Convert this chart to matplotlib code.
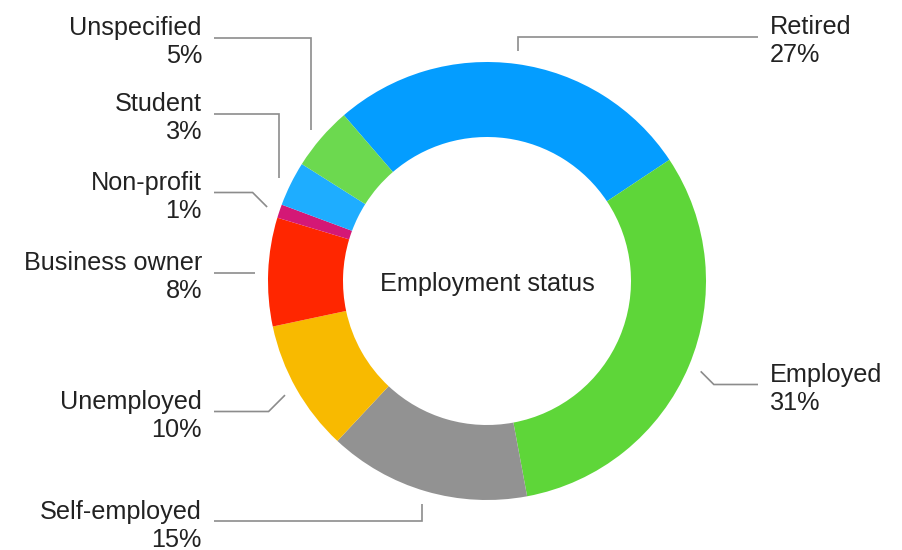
import numpy as np
import matplotlib
matplotlib.use('Agg')
import matplotlib.pyplot as plt

# data (share of respondents, %)
categories = ['Retired', 'Employed', 'Self-employed', 'Unemployed',
              'Business owner', 'Non-profit', 'Student', 'Unspecified']
shares = [27.0, 31.4, 14.9, 9.7, 8.0, 1.0, 3.3, 4.7]
colors = ['#049DFF', '#5ED639', '#929292', '#F8BA00',
          '#FF2600', '#D41876', '#1EADFF', '#6CD94F']
center_title = 'Employment status'

# label layout: side, first-line baseline (px from top), leader style
label_side = ['right', 'right', 'left', 'left', 'left', 'left', 'left', 'left']
label_base = [32, 380, 517, 407, 268, 188, 109, 33]
leader_kind = ['v', 'd', 'v', 'd', 'h', 'd', 'v', 'v']

W, H = 903, 550
plt.rcParams['font.family'] = ['Liberation Sans', 'DejaVu Sans']

fig = plt.figure(figsize=(W / 100, H / 100), dpi=100)
ax = fig.add_axes([0, 0, 1, 1])

def fy(y):
    # pixel row (from top) -> data y
    return H - y

cx, cy = 487, 281
r_out, r_in = 219, 144
wedges, _ = ax.pie(shares, colors=colors, startangle=130.8, counterclock=False,
                   radius=r_out, center=(cx, fy(cy)),
                   wedgeprops=dict(width=r_out - r_in, linewidth=0))

ax.set_xlim(0, W)
ax.set_ylim(0, H)
ax.set_aspect('equal')
ax.axis('off')

ax.text(cx, fy(cy + 3), center_title, ha='center', va='center',
        fontsize=18.2, color='#222222')

line_col = '#8C8C8C'
r_anchor = r_out + 13
for w, name, v, side, base, kind in zip(wedges, categories, shares,
                                        label_side, label_base, leader_kind):
    mid = np.deg2rad((w.theta1 + w.theta2) / 2)
    axp = cx + r_anchor * np.cos(mid)
    ayp = cy - r_anchor * np.sin(mid)
    ly = base + 4.5
    if side == 'left':
        tx, sx, ha = 202, 214, 'right'
    else:
        tx, sx, ha = 770, 758, 'left'
    if kind == 'v':
        xs, ys = [sx, axp, axp], [ly, ly, ayp]
    elif kind == 'd':
        off = abs(ayp - ly)
        ex = axp - off if side == 'left' else axp + off
        xs, ys = [sx, ex, axp], [ly, ly, ayp]
    else:
        xs, ys = [sx, axp], [ly, ly]
    ax.plot(xs, [fy(y) for y in ys], color=line_col, lw=1.2,
            solid_capstyle='butt', solid_joinstyle='miter')
    # baseline alignment of a two-line text sits on the last line
    ax.text(tx, fy(base + 30), f'{name}\n{round(v)}%', ha=ha, va='baseline',
            fontsize=18.2, color='#222222', linespacing=1.2,
            multialignment=ha)

fig.savefig('out.png', dpi=100, facecolor='white')
